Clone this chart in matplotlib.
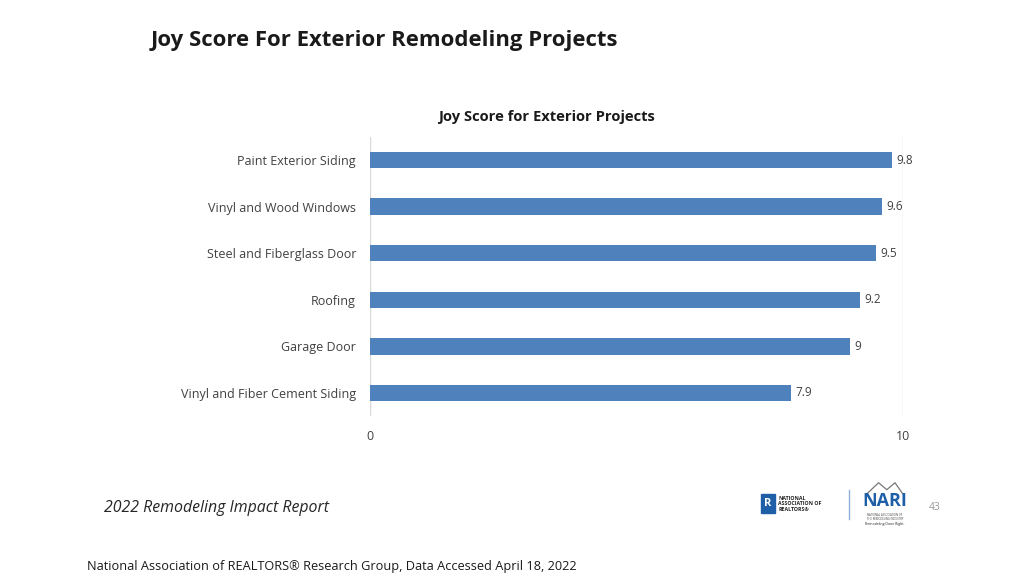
import matplotlib
matplotlib.use('Agg')
import matplotlib.pyplot as plt
from matplotlib.patches import Rectangle

projects = ["Paint Exterior Siding", "Vinyl and Wood Windows", "Steel and Fiberglass Door",
            "Roofing", "Garage Door", "Vinyl and Fiber Cement Siding"]
scores = [9.8, 9.6, 9.5, 9.2, 9, 7.9]
score_labels = ["9.8", "9.6", "9.5", "9.2", "9", "7.9"]

plt.rcParams['font.family'] = ['Open Sans', 'DejaVu Sans']

fig = plt.figure(figsize=(10.24, 5.83), dpi=100)
ax = fig.add_axes([0.3613, 0.286, 0.5205, 0.4795])

ypos = list(range(len(projects)))[::-1]
ax.barh(ypos, scores, height=0.35, color="#4f81bd")
for y, v, lab in zip(ypos, scores, score_labels):
    ax.text(v + 0.08, y, lab, va='center', ha='left', fontsize=8.5, color="#404040")

ax.set_xlim(0, 10)
ax.set_ylim(-0.5, 5.5)
ax.set_xticks([0, 10])
ax.set_xticklabels(["0", "10"], fontsize=9, color="#404040")
ax.set_yticks(ypos)
ax.set_yticklabels(projects, fontsize=9, color="#404040")
ax.tick_params(length=0)
ax.tick_params(axis='x', pad=10)
ax.tick_params(axis='y', pad=10)
for s in ax.spines.values():
    s.set_visible(False)
ax.xaxis.grid(True, color="#d9d9d9", linewidth=1)
ax.set_axisbelow(True)

fig.text(0.147, 0.93, "Joy Score For Exterior Remodeling Projects", fontsize=15.9,
         fontweight='bold', color="#1a1a1a", ha='left', va='center')
fig.text(0.534, 0.80, "Joy Score for Exterior Projects", fontsize=10.6,
         fontweight='bold', color="#1a1a1a", ha='center', va='center')
fig.text(0.102, 0.128, "2022 Remodeling Impact Report", fontsize=11.4,
         style='italic', color="#262626", ha='left', va='center')
fig.text(0.085, 0.029, "National Association of REALTORS\u00ae Research Group, Data Accessed April 18, 2022",
         fontsize=9.2, color="#1a1a1a", ha='left', va='center')

# logos (approximate)
fig.patches.append(Rectangle((0.743, 0.120), 0.014, 0.032, transform=fig.transFigure,
                             color="#1f5fa8"))
fig.text(0.750, 0.136, "R", fontsize=8, fontweight='bold', color="white", ha='center', va='center')
fig.text(0.760, 0.136, "NATIONAL\nASSOCIATION OF\nREALTORS\u00ae", fontsize=3.8,
         fontweight='bold', color="#222222", ha='left', va='center', linespacing=1.1)
fig.add_artist(plt.Line2D([0.8295, 0.8295], [0.11, 0.16], transform=fig.transFigure,
                          color="#8fb0d8", linewidth=1))
fig.add_artist(plt.Line2D([0.846, 0.858, 0.866, 0.874, 0.882], [0.152, 0.172, 0.160, 0.172, 0.152],
                          transform=fig.transFigure, color="#777777", linewidth=0.9))
fig.text(0.864, 0.140, "NARI", fontsize=13, fontweight='bold', color="#1f5fa8",
         ha='center', va='center')
fig.text(0.864, 0.113, "NATIONAL ASSOCIATION OF\nTHE REMODELING INDUSTRY", fontsize=2,
         color="#444444", ha='center', va='center')
fig.text(0.864, 0.101, "Remodeling Done Right.", fontsize=2.5, color="#222222",
         ha='center', va='center')
fig.text(0.913, 0.129, "43", fontsize=7.5, color="#999999", ha='center', va='center')

fig.savefig("out.png", dpi=100)
